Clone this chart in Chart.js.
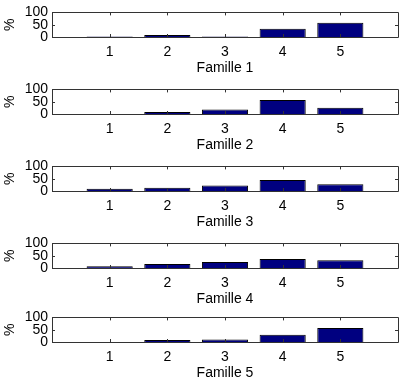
<!DOCTYPE html>
<html>
<head>
<meta charset="utf-8">
<script src="https://cdn.jsdelivr.net/npm/chart.js@4.4.0/dist/chart.umd.min.js"></script>
<style>
  html, body { margin: 0; padding: 0; background: #fff; }
  body { width: 403px; height: 382px; position: relative; overflow: hidden; }
  .panel { position: absolute; left: 0; width: 403px; height: 77px; }
</style>
</head>
<body>
<script>
// data
const categories = [1, 2, 3, 4, 5];
const famille1 = [2, 8, 2, 34, 58];
const famille2 = [0, 8, 18, 57, 25];
const famille3 = [9, 13, 22, 45, 27];
const famille4 = [7, 16, 24, 37, 32];
const famille5 = [0, 8, 10, 29, 57];
const seriesLabels = ["Famille 1", "Famille 2", "Famille 3", "Famille 4", "Famille 5"];
const yTicks = [0, 50, 100];
const yLabel = "%";

const allSeries = [famille1, famille2, famille3, famille4, famille5];
const panelTops = [0, 77, 154, 231, 305];
const fontFamily = "'Liberation Sans', Arial, sans-serif";

// matlab style box with inward ticks
const boxPlugin = {
  id: 'box',
  afterDatasetsDraw(chart) {
    const {ctx, chartArea: a, scales: {x, y}} = chart;
    ctx.save();
    ctx.strokeStyle = '#333';
    ctx.lineWidth = 1;
    ctx.beginPath();
    ctx.rect(Math.round(a.left) + 0.5, Math.round(a.top) + 0.5, Math.round(a.right - a.left), Math.round(a.bottom - a.top));
    categories.forEach(c => {
      const px = Math.round(x.getPixelForValue(c)) + 0.5;
      ctx.moveTo(px, a.bottom); ctx.lineTo(px, a.bottom - 3);
      ctx.moveTo(px, a.top); ctx.lineTo(px, a.top + 3);
    });
    yTicks.forEach(t => {
      const py = Math.round(y.getPixelForValue(t)) + 0.5;
      ctx.moveTo(a.left, py); ctx.lineTo(a.left + 3, py);
      ctx.moveTo(a.right, py); ctx.lineTo(a.right - 3, py);
    });
    ctx.stroke();
    ctx.restore();
  }
};

allSeries.forEach((vals, i) => {
  const div = document.createElement('div');
  div.className = 'panel';
  div.style.top = panelTops[i] + 'px';
  const canvas = document.createElement('canvas');
  div.appendChild(canvas);
  document.body.appendChild(div);

  new Chart(canvas, {
    type: 'bar',
    data: {
      datasets: [{
        data: categories.map((c, k) => ({x: c, y: vals[k]})),
        backgroundColor: '#000080',
        borderColor: '#000000',
        borderWidth: 1,
        barPercentage: 0.8,
        categoryPercentage: 1
      }]
    },
    options: {
      responsive: true,
      maintainAspectRatio: false,
      animation: false,
      layout: { padding: { top: 9, right: 5, left: 0, bottom: 0 } },
      plugins: { legend: { display: false }, tooltip: { enabled: false } },
      scales: {
        x: {
          type: 'linear',
          offset: false,
          min: 0, max: 6,
          afterBuildTicks: s => { s.ticks = categories.map(v => ({value: v})); },
          afterFit: s => { s.height = 40; },
          grid: { display: false, drawTicks: false, offset: false },
          border: { display: false },
          ticks: { color: '#000', padding: 7, font: { family: fontFamily, size: 14 }, maxRotation: 0, autoSkip: false },
          title: { display: true, text: seriesLabels[i], color: '#000', padding: 0, font: { family: fontFamily, size: 14 } }
        },
        y: {
          min: 0, max: 100,
          afterBuildTicks: s => { s.ticks = yTicks.map(v => ({value: v})); },
          afterFit: s => { s.width = 52; },
          grid: { display: false, drawTicks: false },
          border: { display: false },
          ticks: { color: '#000', padding: 4, autoSkip: false, font: { family: fontFamily, size: 14 } },
          title: { display: true, text: yLabel, color: '#000', padding: { top: 2, bottom: 0 }, font: { family: fontFamily, size: 14 } }
        }
      }
    },
    plugins: [boxPlugin]
  });
});
</script>
</body>
</html>
